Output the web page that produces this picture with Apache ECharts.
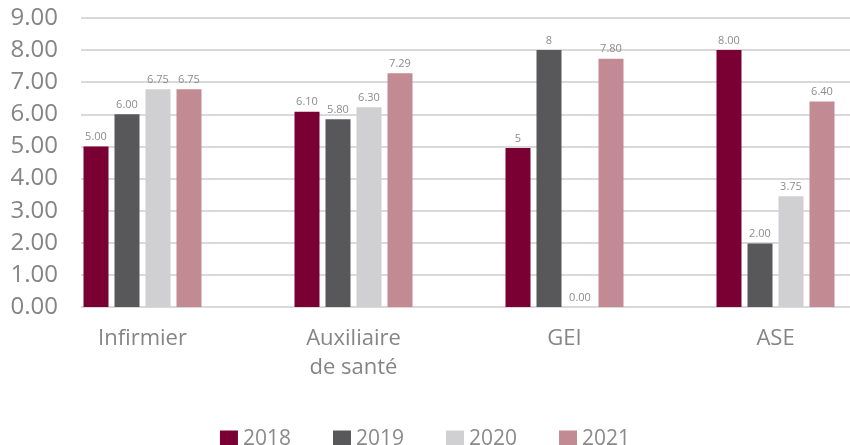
<!DOCTYPE html>
<html>
<head>
<meta charset="utf-8">
<script src="https://cdn.jsdelivr.net/npm/echarts@6/dist/echarts.min.js"></script>
<style>
  html, body { margin: 0; padding: 0; background: #fff; }
  #main { width: 850px; height: 445px; }
</style>
</head>
<body>
<div id="main"></div>
<script>
var categories = ['Infirmier', 'Auxiliaire\nde santé', 'GEI', 'ASE'];
var years = ['2018', '2019', '2020', '2021'];
var yTicks = ['0.00', '1.00', '2.00', '3.00', '4.00', '5.00', '6.00', '7.00', '8.00', '9.00'];

// bar heights as drawn
var v2018 = [5.00, 6.08, 4.95, 8.00];
var v2019 = [6.00, 5.85, 8.00, 1.98];
var v2020 = [6.78, 6.22, 0.00, 3.45];
var v2021 = [6.78, 7.28, 7.73, 6.40];

// texts printed above the bars
var t2018 = ['5.00', '6.10', '5', '8.00'];
var t2019 = ['6.00', '5.80', '8', '2.00'];
var t2020 = ['6.75', '6.30', '0.00', '3.75'];
var t2021 = ['6.75', '7.29', '7.80', '6.40'];

var colors = ['#7a0033', '#58585a', '#d0d0d2', '#c28a93'];
var values = [v2018, v2019, v2020, v2021];
var texts = [t2018, t2019, t2020, t2021];

var myChart = echarts.init(document.getElementById('main'));

var series = years.map(function (y, i) {
    return {
        name: y,
        type: 'bar',
        xAxisIndex: 1,
        yAxisIndex: 1,
        data: values[i],
        barWidth: 25,
        barGap: '24%',
        itemStyle: { color: colors[i] },
        label: {
            show: true,
            position: 'top',
            distance: 4,
            fontSize: 11,
            fontFamily: 'Open Sans',
            color: '#8c8c8c',
            formatter: function (p) { return texts[p.seriesIndex][p.dataIndex]; }
        }
    };
});

option = {
    animation: false,
    color: colors,
    grid: [
        { left: 81, right: 0, top: 18, bottom: 138, outerBoundsMode: 'none' },
        { left: 37, width: 844, top: 18, bottom: 138, outerBoundsMode: 'none' }
    ],
    legend: {
        left: 'center',
        top: 424,
        icon: 'rect',
        itemWidth: 18,
        itemHeight: 18,
        itemGap: 42,
        textStyle: { fontSize: 21, color: '#8a8a8a', fontFamily: 'Open Sans' },
        data: years
    },
    xAxis: [
        { type: 'category', gridIndex: 0, data: categories, show: false },
        {
            type: 'category',
            gridIndex: 1,
            data: categories,
            axisLine: { show: false },
            axisTick: { show: false },
            axisLabel: {
                margin: 17,
                fontSize: 22,
                lineHeight: 29,
                color: '#858585',
                fontFamily: 'Open Sans'
            }
        }
    ],
    yAxis: [
        {
            type: 'value',
            gridIndex: 0,
            min: 0,
            max: 9,
            interval: 1,
            axisLine: { show: false },
            axisTick: { show: false },
            axisLabel: {
                margin: 23,
                fontSize: 24,
                color: '#858585',
                fontFamily: 'Open Sans',
                formatter: function (v) { return yTicks[Math.round(v)]; }
            },
            splitLine: { lineStyle: { color: '#d9d9d9', width: 2 } }
        },
        { type: 'value', gridIndex: 1, min: 0, max: 9, interval: 1, show: false, splitLine: { show: false } }
    ],
    series: series
};

myChart.setOption(option);
</script>
</body>
</html>
